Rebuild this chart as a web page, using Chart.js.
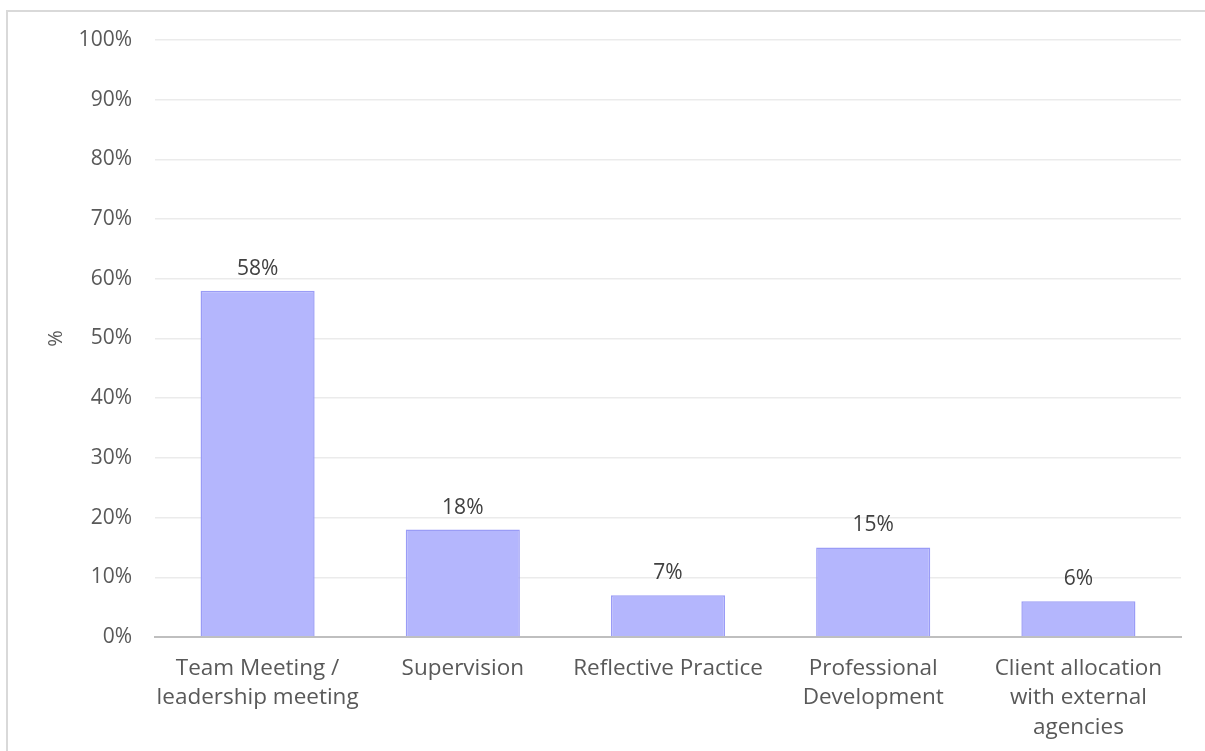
<!DOCTYPE html>
<html>
<head>
<meta charset="utf-8">
<title>Activities</title>
<script src="https://cdn.jsdelivr.net/npm/chart.js@4"></script>
<style>
  html, body { margin: 0; padding: 0; background: #fff; }
  #wrap { position: relative; width: 1205px; height: 751px; overflow: hidden; }
  #frame { position: absolute; left: 6px; top: 10px; right: -4px; bottom: -4px;
           border-top: 2px solid #d9d9d9; border-left: 2px solid #d9d9d9; }
  #chart { position: absolute; left: 0; top: 0; }
</style>
</head>
<body>
<div id="wrap">
  <div id="frame"></div>
  <canvas id="chart" width="1205" height="751"></canvas>
</div>
<script>
const categories = [
  ['Team Meeting /', 'leadership meeting'],
  'Supervision',
  'Reflective Practice',
  ['Professional', 'Development'],
  ['Client allocation', 'with external', 'agencies']
];
const shares = [58, 18, 7, 15, 6];
const yTicks = [0, 10, 20, 30, 40, 50, 60, 70, 80, 90, 100];

const FONT = '"Open Sans", Lato, sans-serif';
const TEXT = '#595959';

// prints the value above each bar
const barValueLabels = {
  id: 'barValueLabels',
  afterDatasetsDraw(chart) {
    const ctx = chart.ctx;
    const meta = chart.getDatasetMeta(0);
    ctx.save();
    ctx.font = '21px ' + FONT;
    ctx.fillStyle = '#404040';
    ctx.textAlign = 'center';
    ctx.textBaseline = 'middle';
    meta.data.forEach((bar, i) => {
      ctx.fillText(shares[i] + '%', bar.x, bar.y - 22);
    });
    ctx.restore();
  }
};

new Chart(document.getElementById('chart'), {
  type: 'bar',
  data: {
    labels: categories,
    datasets: [{
      data: shares,
      backgroundColor: '#b4b6fd',
      borderColor: '#9a9cf6',
      borderWidth: 1.5,
      categoryPercentage: 1,
      barPercentage: 0.556
    }]
  },
  options: {
    responsive: false,
    animation: false,
    layout: { padding: { left: 40, top: 40, right: 24, bottom: 0 } },
    plugins: { legend: { display: false }, tooltip: { enabled: false } },
    scales: {
      x: {
        grid: { display: false, drawTicks: false },
        border: { display: true, color: '#bfbfbf', width: 2 },
        ticks: { color: TEXT, font: { family: FONT, size: 22.5, lineHeight: 1.3 }, padding: 17, maxRotation: 0, autoSkip: false },
        afterFit(scale) { scale.height = 114; }
      },
      y: {
        min: 0,
        max: 100,
        afterBuildTicks(scale) { scale.ticks = yTicks.map(v => ({ value: v })); },
        grid: { color: '#ebebeb', lineWidth: 1.5, drawTicks: false },
        border: { display: false },
        ticks: { color: TEXT, font: { family: FONT, size: 21 }, padding: 23, callback: v => v + '%' },
        title: { display: true, text: '%', color: TEXT, font: { family: FONT, size: 20 }, padding: { top: 4, bottom: 4 } },
        afterFit(scale) { scale.width = 115; }
      }
    }
  },
  plugins: [barValueLabels]
});
</script>
</body>
</html>
